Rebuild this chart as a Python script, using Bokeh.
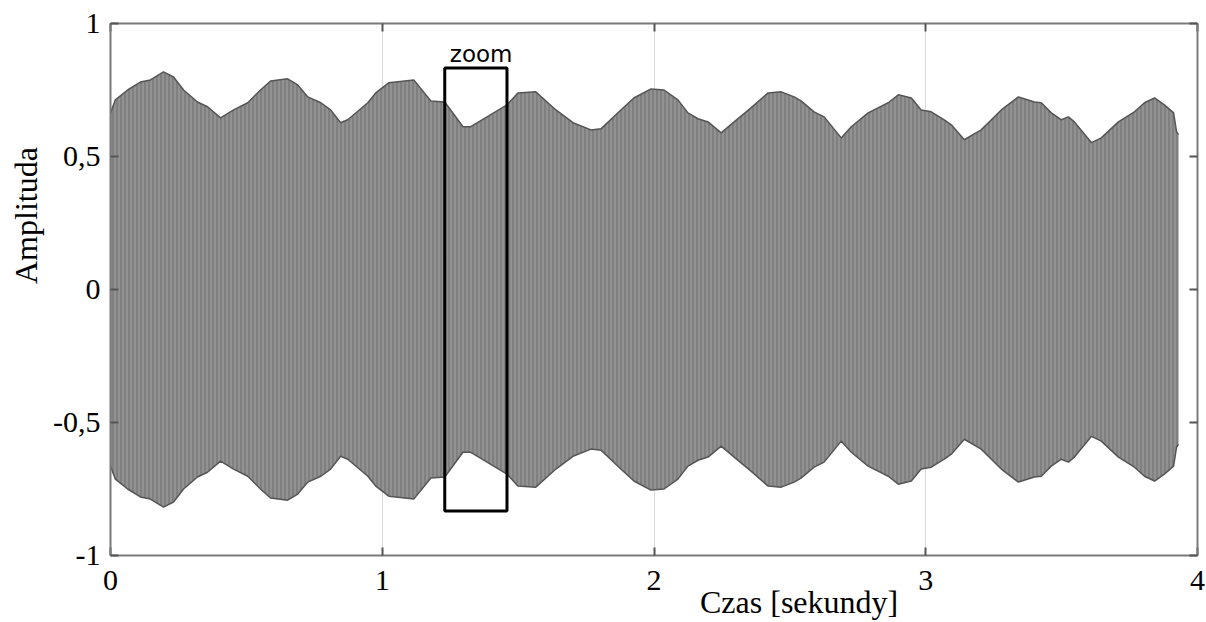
from bokeh.plotting import figure
from bokeh.models import FixedTicker, LinearAxis, Label, ColumnDataSource
from bokeh.embed import file_html
from bokeh.resources import INLINE

# Envelope of the waveform (time in seconds, amplitude)
env_t = [0.0, 0.018, 0.063, 0.110, 0.147, 0.195, 0.232, 0.269, 0.320, 0.357, 0.405,
         0.453, 0.505, 0.552, 0.589, 0.652, 0.689, 0.726, 0.774, 0.810, 0.847, 0.873,
         0.947, 0.976, 1.024, 1.116, 1.179, 1.230, 1.297, 1.326, 1.459, 1.499, 1.565,
         1.639, 1.702, 1.768, 1.805, 1.878, 1.926, 1.989, 2.037, 2.088, 2.125, 2.162,
         2.199, 2.247, 2.295, 2.357, 2.420, 2.468, 2.516, 2.541, 2.589, 2.626, 2.689,
         2.726, 2.788, 2.862, 2.899, 2.947, 2.983, 3.020, 3.068, 3.094, 3.142, 3.204,
         3.278, 3.341, 3.400, 3.425, 3.462, 3.499, 3.525, 3.547, 3.610, 3.646, 3.709,
         3.768, 3.805, 3.842, 3.878, 3.912, 3.923, 3.930]
env_a = [0.664, 0.713, 0.750, 0.780, 0.788, 0.818, 0.799, 0.750, 0.705, 0.687, 0.645,
         0.675, 0.702, 0.750, 0.784, 0.792, 0.769, 0.724, 0.702, 0.675, 0.627, 0.638,
         0.702, 0.739, 0.777, 0.788, 0.709, 0.705, 0.612, 0.612, 0.694, 0.739, 0.743,
         0.675, 0.627, 0.600, 0.604, 0.675, 0.720, 0.754, 0.750, 0.713, 0.664, 0.642,
         0.630, 0.589, 0.630, 0.683, 0.739, 0.743, 0.724, 0.709, 0.668, 0.649, 0.570,
         0.612, 0.664, 0.702, 0.732, 0.720, 0.675, 0.668, 0.638, 0.619, 0.563, 0.600,
         0.675, 0.724, 0.705, 0.702, 0.664, 0.638, 0.649, 0.630, 0.552, 0.570, 0.630,
         0.668, 0.702, 0.720, 0.694, 0.664, 0.593, 0.582]
env_low = [-a for a in env_a]

# Zoom window
zoom_left = [1.230]
zoom_right = [1.459]
zoom_bottom = [-0.833]
zoom_top = [0.833]

x_ticks = [0, 1, 2, 3, 4]
y_ticks = [-1, -0.5, 0, 0.5, 1]
y_tick_labels = {1: "1", 0.5: "0,5", 0: "0", -0.5: "-0,5", -1: "-1"}

x_title = "Czas [sekundy]"
x_title_pos = 2.534
y_title = "Amplituda"
y_title_pos = 0.278

SERIF = "Liberation Serif"

p = figure(width=1206, height=622, x_range=(0, 4), y_range=(-1, 1),
           output_backend="svg", toolbar_location=None,
           min_border_left=110, min_border_right=9, min_border_top=23,
           min_border_bottom=66, background_fill_color="white",
           border_fill_color="white")
p.outline_line_color = None

src = ColumnDataSource(dict(t=env_t, up=env_a, lo=env_low))
p.varea(x="t", y1="lo", y2="up", source=src, fill_color="#808080",
        hatch_pattern="vertical_line", hatch_color="#ababab",
        hatch_scale=4, hatch_weight=1, hatch_alpha=0.8)
p.line(x="t", y="up", source=src, line_color="#555555", line_width=1.5)
p.line(x="t", y="lo", source=src, line_color="#555555", line_width=1.5)

p.quad(left=zoom_left, right=zoom_right, bottom=zoom_bottom, top=zoom_top,
       fill_color=None, line_color="black", line_width=3)

p.add_layout(Label(x=1.364, y=0.885, text="zoom", text_font="DejaVu Sans",
                   text_font_size="23px", text_align="center",
                   text_baseline="alphabetic", text_color="black"))

# Axes
bottom = p.below[0]
left = p.left[0]
bottom.ticker = FixedTicker(ticks=x_ticks)
left.ticker = FixedTicker(ticks=y_ticks)
left.major_label_overrides = y_tick_labels

top = LinearAxis(ticker=FixedTicker(ticks=x_ticks),
                 major_label_overrides={t: "" for t in x_ticks},
                 major_label_standoff=0)
right = LinearAxis(ticker=FixedTicker(ticks=y_ticks),
                   major_label_overrides={t: "" for t in y_ticks},
                   major_label_standoff=0)
p.add_layout(top, "above")
p.add_layout(right, "right")

for ax in (bottom, left, top, right):
    ax.axis_line_color = "#7a7a7a"
    ax.axis_line_width = 2
    ax.major_tick_in = 8
    ax.major_tick_out = 0
    ax.major_tick_line_color = "#555555"
    ax.major_tick_line_width = 2
    ax.minor_tick_line_color = None
    ax.major_label_text_font = SERIF
    ax.major_label_text_color = "black"

bottom.major_label_text_font_size = "30px"
bottom.major_label_standoff = 15
left.major_label_text_font_size = "30px"
left.major_label_standoff = 10

# Axis titles placed as labels of title-only axes
xt = LinearAxis(ticker=FixedTicker(ticks=[x_title_pos]),
                major_label_overrides={x_title_pos: x_title},
                major_label_standoff=-9, major_label_text_font=SERIF,
                major_label_text_font_size="32px", major_label_text_color="black",
                axis_line_color=None, major_tick_line_color=None,
                minor_tick_line_color=None, major_tick_in=0, major_tick_out=0)
p.add_layout(xt, "below")
yt = LinearAxis(ticker=FixedTicker(ticks=[y_title_pos]),
                major_label_overrides={y_title_pos: y_title},
                major_label_orientation="vertical",
                major_label_standoff=6, major_label_text_font=SERIF,
                major_label_text_font_size="32px", major_label_text_color="black",
                axis_line_color=None, major_tick_line_color=None,
                minor_tick_line_color=None, major_tick_in=0, major_tick_out=0)
p.add_layout(yt, "left")

p.xgrid.ticker = FixedTicker(ticks=[1, 2, 3])
p.xgrid.grid_line_color = "#dcdcdc"
p.xgrid.grid_line_width = 1
p.ygrid.grid_line_color = None

open("out.html", "w").write(file_html(p, INLINE))
